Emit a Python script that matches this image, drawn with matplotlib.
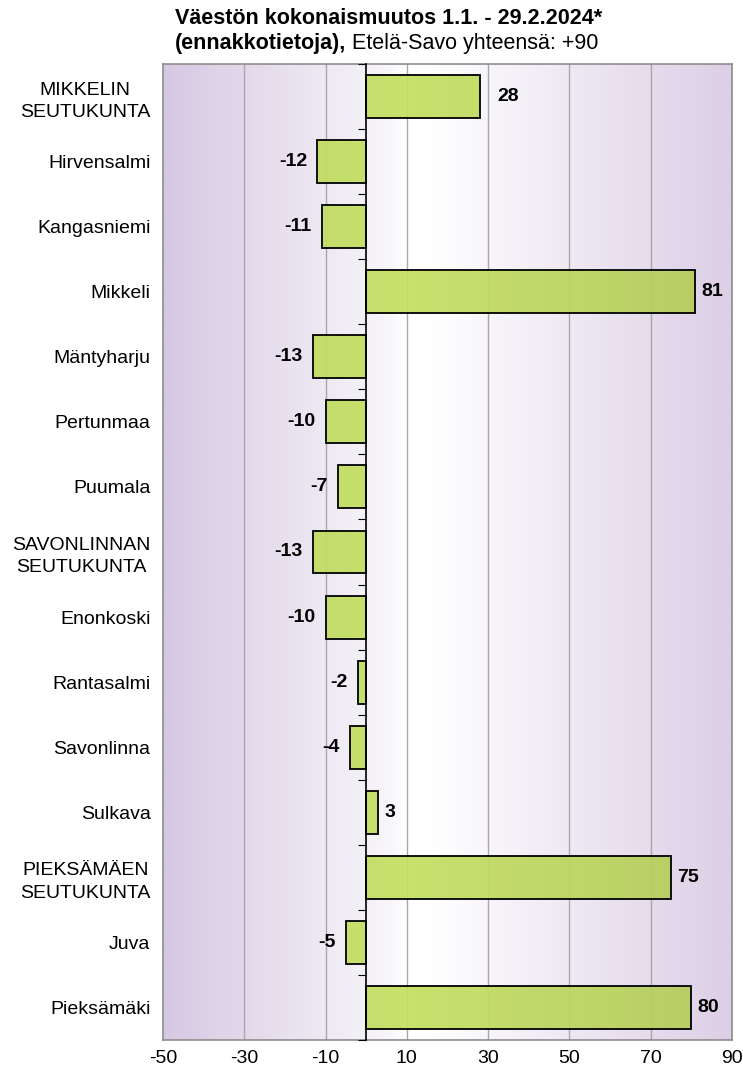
import numpy as np
import matplotlib
matplotlib.use("Agg")
import matplotlib.pyplot as plt
from matplotlib.colors import LinearSegmentedColormap

plt.rcParams['font.family'] = ['Liberation Sans', 'DejaVu Sans']

# data
areas = ["MIKKELIN\nSEUTUKUNTA", "Hirvensalmi", "Kangasniemi", "Mikkeli", "Mäntyharju",
         "Pertunmaa", "Puumala", "SAVONLINNAN\nSEUTUKUNTA", "Enonkoski", "Rantasalmi",
         "Savonlinna", "Sulkava", "PIEKSÄMÄEN\nSEUTUKUNTA", "Juva", "Pieksämäki"]
change = [28, -12, -11, 81, -13, -10, -7, -13, -10, -2, -4, 3, 75, -5, 80]
xticks = [-50, -30, -10, 10, 30, 50, 70, 90]

fig = plt.figure(figsize=(7.43, 10.74), dpi=100)
ax = fig.add_axes([163/743, 1 - 1040/1074, (732-163)/743, (1040-64)/1074])

n = len(areas)
y = np.arange(n)
xmin, xmax = -50, 90
ylo, yhi = n - 0.5, -0.5

# background gradient: purple at edges, white near zero
bg = LinearSegmentedColormap.from_list("bg", [(0, "#d6c8e2"), (0.4, "#f8f6fa"), (0.43, "#ffffff"),
                                               (0.47, "#ffffff"), (1, "#dccfe6")])
grad = np.linspace(0, 1, 400).reshape(1, -1)
ax.imshow(grad, cmap=bg, extent=[xmin, xmax, ylo, yhi], aspect='auto', zorder=0)

for g in xticks[1:-1]:
    ax.axvline(g, color="#a8a8a8", lw=1, zorder=1)

# bars with green gradient
green = LinearSegmentedColormap.from_list("gr", [(0, "#bbd55f"), (0.42, "#c4e062"), (1, "#b4cb5b")])
bars = ax.barh(y, change, height=0.66, color="none", edgecolor="black", lw=1.3, zorder=3)
for b in bars:
    im = ax.imshow(grad, cmap=green, extent=[xmin, xmax, ylo, yhi], aspect='auto',
                   zorder=2, alpha=0.93)
    im.set_clip_path(b)

# value labels; the first one sits a bit further out in the original
extra_gap = {0: 8}
for i, (yi, v) in enumerate(zip(y, change)):
    if v >= 0:
        ax.annotate(str(v), (v, yi), xytext=(4.5 + extra_gap.get(i, 0), 0),
                    textcoords='offset points', ha='left', va='center',
                    fontsize=14, fontweight='bold')
    else:
        ax.annotate(str(v), (v, yi), xytext=(-7.5, 0), textcoords='offset points',
                    ha='right', va='center', fontsize=14, fontweight='bold')

ax.set_xlim(xmin, xmax)
ax.set_ylim(ylo, yhi)
ax.set_xticks(xticks)
ax.set_xticklabels([str(t) for t in xticks], fontsize=14)
ax.set_yticks(y)
ax.set_yticklabels(areas, fontsize=14, multialignment='center', linespacing=1.4)
ax.tick_params(axis='y', length=0, pad=9)
ax.tick_params(axis='x', length=0, pad=7)
for s in ax.spines.values():
    s.set_color("#8c8c8c")
    s.set_linewidth(1.2)

# zero line with small ticks between categories
ax2 = ax.twinx()
ax2.set_ylim(ylo, yhi)
ax2.spines['right'].set_position(('data', 0))
ax2.spines['right'].set_color('black')
ax2.spines['right'].set_linewidth(1.2)
ax2.spines['right'].set_zorder(4)
for s in ['left', 'top', 'bottom']:
    ax2.spines[s].set_visible(False)
ax2.set_yticks(np.arange(n + 1) - 0.5)
ax2.tick_params(axis='y', direction='in', length=6, labelright=False, color='black')

t1 = fig.text(389/743, 1 - 19/1074, "Väestön kokonaismuutos 1.1. - 29.2.2024*",
              ha='center', va='center', fontsize=15.5, fontweight='bold')
t2 = fig.text(175/743, 1 - 43/1074, "(ennakkotietoja),", ha='left', va='center',
              fontsize=15.5, fontweight='bold')
ax.annotate(" Etelä-Savo yhteensä: +90", xy=(1, 0.5), xycoords=t2, ha='left', va='center',
            fontsize=15.5, annotation_clip=False)

fig.savefig("out.png", dpi=100)
